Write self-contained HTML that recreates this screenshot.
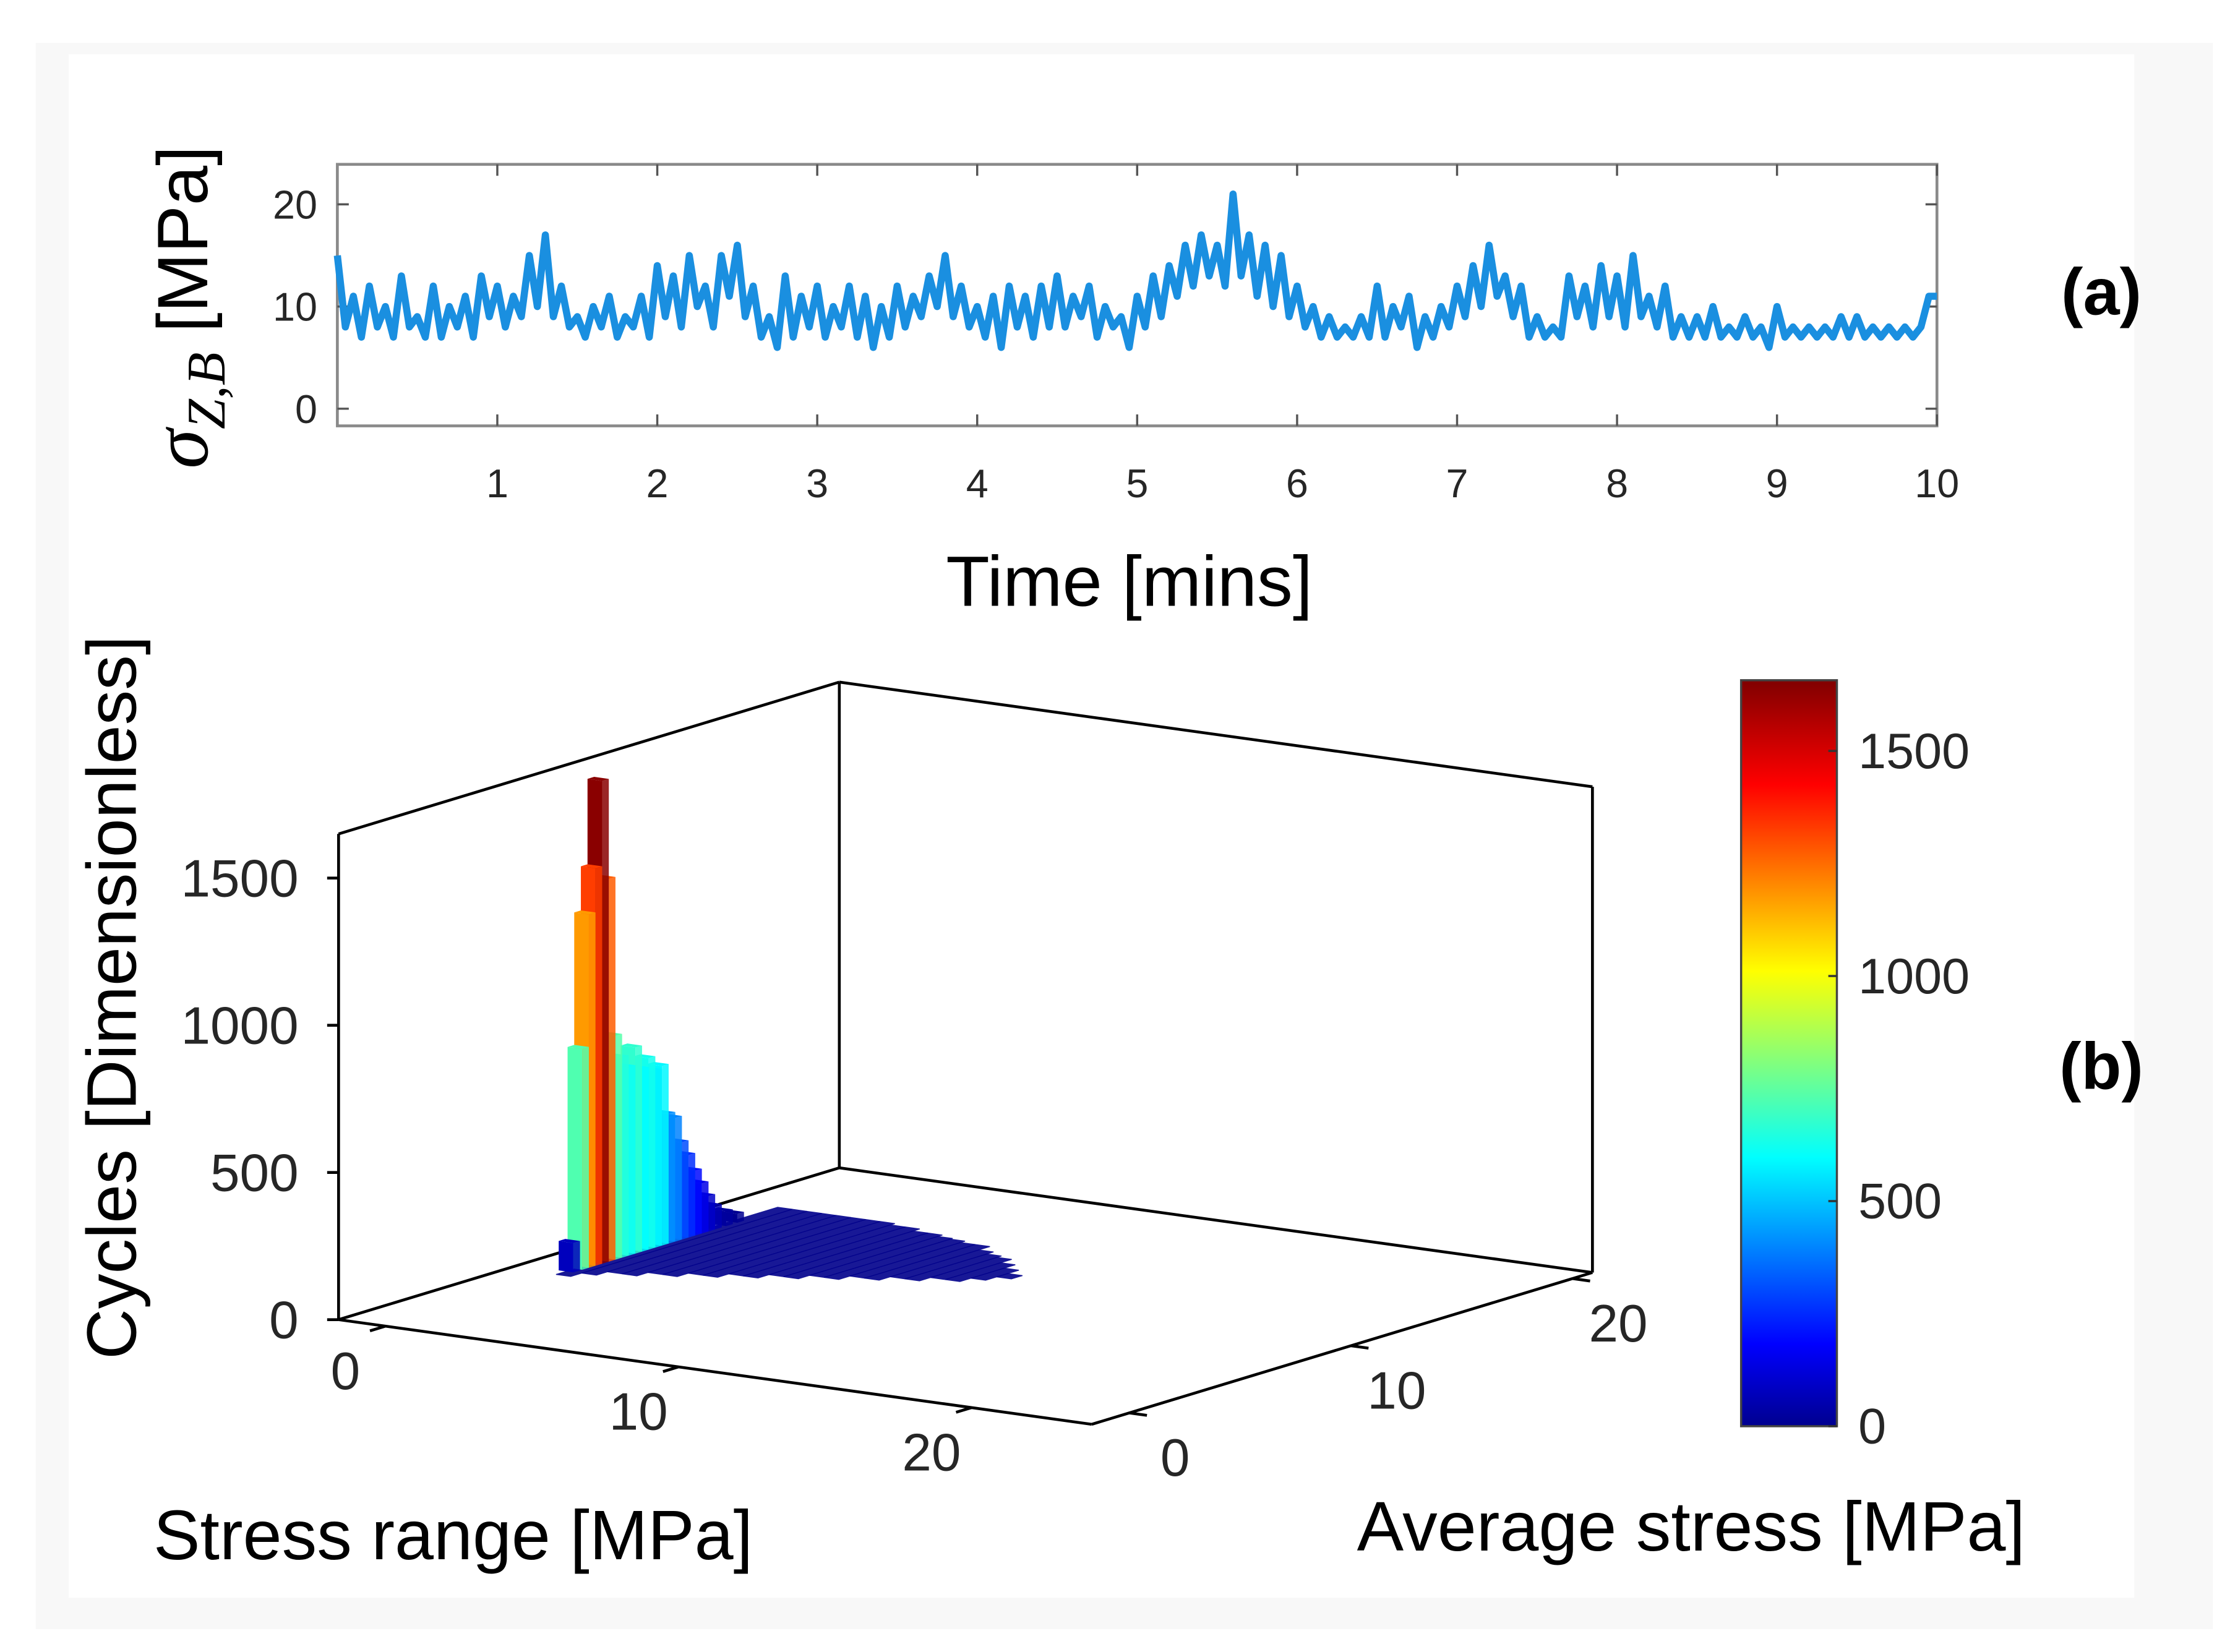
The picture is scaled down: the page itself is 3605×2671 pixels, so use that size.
<!DOCTYPE html>
<html><head><meta charset="utf-8">
<style>
html,body{margin:0;padding:0;background:#fff;}
svg{display:block;}
text{font-family:"Liberation Sans",sans-serif;}
</style></head>
<body>
<svg id="fig" width="3605" height="2671" viewBox="0 0 1560 1156" preserveAspectRatio="none" xmlns="http://www.w3.org/2000/svg">
<rect x="0" y="0" width="1560" height="1156" fill="#ffffff"/>
<rect x="25" y="30" width="1523" height="1110" fill="#f8f8f8"/>
<rect x="48" y="38" width="1445" height="1080" fill="#ffffff"/>
<defs>
<linearGradient id="jet" x1="0" y1="1" x2="0" y2="0">
<stop offset="0" stop-color="#00008f"/>
<stop offset="0.11" stop-color="#0000ff"/>
<stop offset="0.36" stop-color="#00ffff"/>
<stop offset="0.61" stop-color="#ffff00"/>
<stop offset="0.86" stop-color="#ff0000"/>
<stop offset="1" stop-color="#800000"/>
</linearGradient>
</defs>
<g id="top"></g>
<g id="bottom"></g>
</svg>
<script>
// ---- data: time series (a) ----
const seriesStep = 0.05;
const stressValues = [
15,8,11,7,12,8,10,7,13,8, 9,7,12,7,10,8,11,7,13,9,
12,8,11,9,15,10,17,9,12,8, 9,7,10,8,11,7,9,8,11,7,
14,9,13,8,15,10,12,8,15,11, 16,9,12,7,9,6,13,7,11,8,
12,7,10,8,12,7,11,6,10,7, 12,8,11,9,13,10,15,9,12,8,
10,7,11,6,12,8,11,7,12,8, 13,8,11,9,12,7,10,8,9,6,
11,8,13,9,14,11,16,12,17,13, 16,12,21,13,17,11,16,10,15,9,
12,8,10,7,9,7,8,7,9,7, 12,7,10,8,11,6,9,7,10,8,
12,9,14,10,16,11,13,9,12,7, 9,7,8,7,13,9,12,8,14,9,
13,8,15,9,11,8,12,7,9,7, 9,7,10,7,8,7,9,7,8,6,
10,7,8,7,8,7,8,7,9,7, 9,7,8,7,8,7,8,7,8,11, 11];
const timeTicks = [1,2,3,4,5,6,7,8,9,10];
const stressTicks = [0,10,20];
// ---- data: histogram (b) ----
const barAvg = [6.6,7.0,7.3,7.6,7.9,8.2,8.5,8.8,9.1,9.4,9.7,10.0,10.3,10.6,10.9,11.2,11.5,11.8,12.1,12.4,12.7,13.0,13.5,14.0];
const barCycles = [100,750,1200,1350,1640,1300,760,680,640,700,620,650,600,610,440,420,330,280,220,170,120,80,50,30];
const floorRange = [0.5,1,1.5,2,2.5,3,3.5,4,4.5,5,5.5,6,6.5,7,7.5,8,8.5,9,9.5,10,10.5,11];
const floorAvgLo = [6,6.5,7,7,7.5,7.5,8,8,8.5,8.5,9,9,9.5,9.5,10,10,10.5,10.5,11,11,11.5,12];
const floorAvgHi = [16,16,16,16,16,16,16,16,15.8,15.8,15.5,15.5,15.3,15.2,15,15,14.5,14.2,14,13.5,13,12.5];
const zTicks = [0,500,1000,1500];
const rangeTicks = [0,10,20];
const avgTicks = [0,10,20];
const cbTicks = [0,500,1000,1500];
const cbMax = 1657;

const NS="http://www.w3.org/2000/svg";
function mk(parent, tag, attrs, txt){const e=document.createElementNS(NS,tag);for(const k in attrs)e.setAttribute(k,attrs[k]);if(txt!==undefined)e.textContent=txt;parent.appendChild(e);return e;}

// ===== Top chart =====
const T=document.getElementById('top');
const px0=236,px1=1355,py0=115,py1=298;
const xT=t=>px0+(px1-px0)*t/10;
const yS=v=>286-7.15*v;
let e=mk(T,'rect',{x:px0,y:py0,width:px1-px0,height:py1-py0,fill:'#fff',stroke:'#8a8a8a','stroke-width':2});


timeTicks.forEach(t=>{
  const g=mk(T,'g',{});
  
  
  mk(g,'line',{x1:xT(t),x2:xT(t),y1:py1,y2:py1-8,stroke:'#555','stroke-width':1.5});
  mk(g,'line',{x1:xT(t),x2:xT(t),y1:py0,y2:py0+8,stroke:'#555','stroke-width':1.5});
  mk(g,'text',{x:xT(t),y:348,'font-size':28,'text-anchor':'middle',fill:'#262626'},String(t));
});
stressTicks.forEach(v=>{
  const g=mk(T,'g',{});
  
  
  mk(g,'line',{x1:px0,x2:px0+8,y1:yS(v),y2:yS(v),stroke:'#555','stroke-width':1.5});
  mk(g,'line',{x1:px1,x2:px1-8,y1:yS(v),y2:yS(v),stroke:'#555','stroke-width':1.5});
  mk(g,'text',{x:222,y:yS(v)+10,'font-size':28,'text-anchor':'end',fill:'#262626'},String(v));
});
let pts=stressValues.map((v,i)=>xT(Math.min(10,i*seriesStep)).toFixed(1)+','+yS(v).toFixed(1)).join(' ');
e=mk(T,'polyline',{points:pts,fill:'none',stroke:'#1a8fe0','stroke-width':5,'stroke-linejoin':'round'});


e=mk(T,'text',{x:0,y:0,'font-size':50,'text-anchor':'middle',fill:'#000',transform:'translate(145,215) rotate(-90)'});


e.innerHTML='<tspan font-family="Liberation Serif" font-style="italic" font-size="56">σ</tspan><tspan font-family="Liberation Serif" font-style="italic" font-size="38" dy="12">Z,B</tspan><tspan dy="-12"> [MPa]</tspan>';
e=mk(T,'text',{x:790,y:424,'font-size':50,'text-anchor':'middle',fill:'#000'},'Time [mins]');


e=mk(T,'text',{x:1470,y:220,'font-size':46,'font-weight':'bold','text-anchor':'middle',fill:'#000'},'(a)');



// ===== Bottom 3D chart =====
const B=document.getElementById('bottom');
const O=[296,920], R=[20.5,2.85], A=[15.5,-4.7], Z=0.206;
const P=(r,a,z)=>[O[0]+r*R[0]+a*A[0], O[1]+r*R[1]+a*A[1]-z*Z];
const rMin=-1.6,rMax=24.1,aMin=-1.7,aMax=20.9,zMax=1650;
const line=(p,q,name,w)=>{const l=mk(B,'line',{x1:p[0],y1:p[1],x2:q[0],y2:q[1],stroke:'#000','stroke-width':w||2});return l;};
line(P(rMin,aMin,0),P(rMin,aMin,zMax),'z-axis-line');
line(P(rMin,aMin,zMax),P(rMin,aMax,zMax),'box-top-left-edge');
line(P(rMin,aMax,0),P(rMin,aMax,zMax),'box-back-vertical');
line(P(rMin,aMax,zMax),P(rMax,aMax,zMax),'box-top-right-edge');
line(P(rMax,aMax,0),P(rMax,aMax,zMax),'box-right-vertical');
line(P(rMin,aMax,0),P(rMax,aMax,0),'box-floor-back-edge');
line(P(rMin,aMin,0),P(rMin,aMax,0),'box-floor-left-edge');
line(P(rMin,aMin,0),P(rMax,aMin,0),'stress-range-axis-line');
line(P(rMax,aMin,0),P(rMax,aMax,0),'average-stress-axis-line');
function jet(t){t=Math.max(0,Math.min(1,t));const f=x=>Math.max(0,Math.min(1,x));
  const r=f(1.5-Math.abs(4*t-3)),g=f(1.5-Math.abs(4*t-2)),b=f(1.5-Math.abs(4*t-1));
  return 'rgb('+Math.round(r*255)+','+Math.round(g*255)+','+Math.round(b*255)+')';}
floorRange.forEach((r,i)=>{
  const p=[P(r-0.5,floorAvgLo[i],0),P(r,floorAvgLo[i],0),P(r,floorAvgHi[i],0),P(r-0.5,floorAvgHi[i],0)];
  const pg=mk(B,'polygon',{points:p.map(q=>q.join(',')).join(' '),fill:'#00008b',stroke:'#00008b','stroke-width':0.6,opacity:0.9});
  
  
});
const order=barAvg.map((a,i)=>i).sort((i,j)=>barAvg[j]-barAvg[i]);
order.forEach(i=>{
  const a=barAvg[i],h=barCycles[i],r0=-0.25,r1=0.25,a0=a-0.15,a1=a+0.15;
  const c=jet(h/cbMax);
  const g=mk(B,'g',{});
  
  
  const f1=[P(r0,a0,0),P(r1,a0,0),P(r1,a0,h),P(r0,a0,h)];
  const f2=[P(r1,a0,0),P(r1,a1,0),P(r1,a1,h),P(r1,a0,h)];
  const f3=[P(r0,a0,h),P(r1,a0,h),P(r1,a1,h),P(r0,a1,h)];
  mk(g,'polygon',{points:f1.map(q=>q.join(',')).join(' '),fill:c});
  mk(g,'polygon',{points:f2.map(q=>q.join(',')).join(' '),fill:c,opacity:0.85});
  mk(g,'polygon',{points:f3.map(q=>q.join(',')).join(' '),fill:c});
});
zTicks.forEach(v=>{
  const p=P(rMin,aMin,v);
  const g=mk(B,'g',{});
  
  
  mk(g,'line',{x1:p[0]-8,y1:p[1],x2:p[0],y2:p[1],stroke:'#000','stroke-width':2});
  mk(g,'text',{x:p[0]-28,y:p[1]+13,'font-size':37,'text-anchor':'end',fill:'#262626'},String(v));
});
rangeTicks.forEach(v=>{
  const p=P(v,aMin,0);
  const g=mk(B,'g',{});
  
  
  mk(g,'line',{x1:p[0],y1:p[1],x2:p[0]-A[0]*0.7,y2:p[1]-A[1]*0.7,stroke:'#000','stroke-width':2});
  mk(g,'text',{x:p[0]-28,y:p[1]+44,'font-size':37,'text-anchor':'middle',fill:'#262626'},String(v));
});
avgTicks.forEach(v=>{
  const p=P(rMax,v,0);
  const g=mk(B,'g',{});
  
  
  mk(g,'line',{x1:p[0],y1:p[1],x2:p[0]+R[0]*0.6,y2:p[1]+R[1]*0.6,stroke:'#000','stroke-width':2});
  mk(g,'text',{x:p[0]+32,y:p[1]+44,'font-size':37,'text-anchor':'middle',fill:'#262626'},String(v));
});
const cbX=1218,cbW=67,cbTop=476,cbBot=998;
const cbY=v=>cbBot-(cbBot-cbTop)*v/cbMax;
e=mk(B,'rect',{x:cbX,y:cbTop,width:cbW,height:cbBot-cbTop,fill:'url(#jet)',stroke:'#444','stroke-width':1.5});


cbTicks.forEach(v=>{
  const g=mk(B,'g',{});
  
  
  mk(g,'line',{x1:cbX+cbW-6,x2:cbX+cbW,y1:cbY(v),y2:cbY(v),stroke:'#333','stroke-width':1.5});
  mk(g,'text',{x:1300,y:cbY(v)+12,'font-size':35,fill:'#262626'},String(v));
});
e=mk(B,'text',{x:0,y:0,'font-size':49,'text-anchor':'middle',fill:'#000',transform:'translate(95,698) rotate(-90)'},'Cycles [Dimensionless]');


e=mk(B,'text',{x:317,y:1091,'font-size':49,'text-anchor':'middle',fill:'#000'},'Stress range [MPa]');


e=mk(B,'text',{x:1183,y:1085,'font-size':49,'text-anchor':'middle',fill:'#000'},'Average stress [MPa]');


e=mk(B,'text',{x:1470,y:762,'font-size':46,'font-weight':'bold','text-anchor':'middle',fill:'#000'},'(b)');


</script>
</body></html>
